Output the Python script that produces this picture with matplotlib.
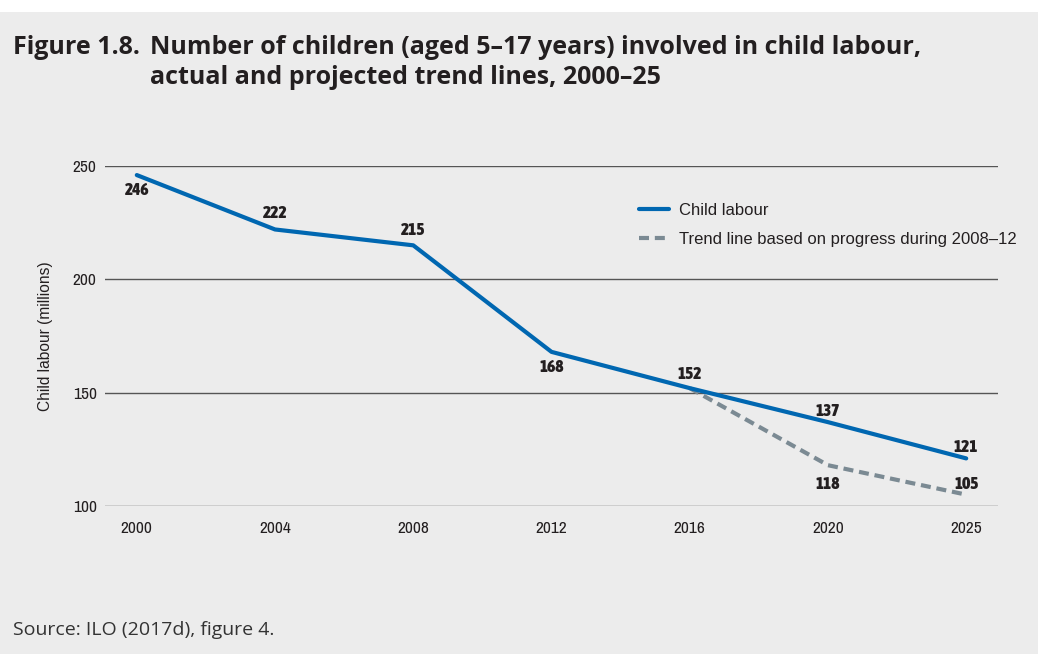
import matplotlib
matplotlib.use('Agg')
import matplotlib.pyplot as plt
from matplotlib import font_manager
from matplotlib.font_manager import FontProperties
from matplotlib.patches import Rectangle

years = ['2000', '2004', '2008', '2012', '2016', '2020', '2025']
child_labour = [246, 222, 215, 168, 152, 137, 121]
trend_years = ['2016', '2020', '2025']
trend_values = [152, 118, 105]

BG = '#ececec'
BLUE = '#0067b1'
GREY = '#7b8a93'
INK = '#231f20'
SANS = ['Liberation Sans', 'DejaVu Sans']
TITLE_FONT = ['Open Sans', 'DejaVu Sans']


def narrow_face(bold, size):
    # a condensed face for the numbers, falling back to condensed DejaVu
    for f in font_manager.fontManager.ttflist:
        if ('Narrow' in f.name or 'Condensed' in f.name) and f.style == 'normal':
            w = f.weight if isinstance(f.weight, int) else 400
            if (bold and w >= 700) or (not bold and w == 400):
                return FontProperties(fname=f.fname, size=size)
    return FontProperties(family='DejaVu Sans', stretch='condensed',
                          weight='bold' if bold else 'normal', size=size)


tick_fp = narrow_face(False, 12.5)
value_fp = narrow_face(True, 12.5)

fig = plt.figure(figsize=(10.38, 6.54), dpi=100)
fig.patch.set_facecolor(BG)
# thin white strip across the top
fig.patches.append(Rectangle((0, 1 - 12 / 654), 1, 12 / 654, transform=fig.transFigure,
                             facecolor='white', edgecolor='none'))

ax = fig.add_axes([105 / 1038, 1 - 506 / 654, 893 / 1038, 340 / 654])
ax.set_facecolor(BG)

xs = list(range(len(years)))
txs = [years.index(y) for y in trend_years]

ax.plot(txs, trend_values, color=GREY, lw=3, ls=(0, (2.4, 1.4)), zorder=3,
        label='Trend line based on progress during 2008–12')
ax.plot(xs, child_labour, color=BLUE, lw=3, solid_capstyle='round', zorder=4,
        label='Child labour')

ax.set_xlim(-0.23, 6.23)
ax.set_ylim(100, 250)
ax.set_yticks([100, 150, 200, 250])
ax.set_xticks(xs)
ax.set_xticklabels(years)
ax.yaxis.grid(True, color='#555555', lw=1)
ax.set_axisbelow(True)
for s in ax.spines.values():
    s.set_visible(False)
ax.tick_params(length=0, colors=INK)
ax.tick_params(axis='x', pad=11)
ax.tick_params(axis='y', pad=6)
for lbl in ax.get_xticklabels() + ax.get_yticklabels():
    lbl.set_fontproperties(tick_fp)
ax.set_ylabel('Child labour (millions)', fontsize=11.2, family=SANS,
              color=INK, labelpad=14)

# value labels, offsets in points from the data point
offsets = [-11, 11.5, 11, -11, 10, 8, 8.5]
for x, v, dy in zip(xs, child_labour, offsets):
    ax.annotate(str(v), (x, v), xytext=(0, dy), textcoords='offset points',
                ha='center', va='center', fontproperties=value_fp, color=INK)
trend_offsets = [None, -13.5, 8]
for x, v, dy in zip(txs, trend_values, trend_offsets):
    if dy is None:
        continue
    ax.annotate(str(v), (x, v), xytext=(0, dy), textcoords='offset points',
                ha='center', va='center', fontproperties=value_fp, color=INK)

handles, labels = ax.get_legend_handles_labels()
leg = ax.legend(handles[::-1], labels[::-1], loc='upper left',
                bbox_to_anchor=(527 / 893, 0.91), frameon=False, handlelength=1.8,
                handletextpad=0.6, labelspacing=0.8, borderaxespad=0,
                prop={'family': SANS, 'size': 12})
for t in leg.get_texts():
    t.set_color(INK)

fig.text(13 / 1038, 1 - 47 / 654, 'Figure 1.8.', fontsize=18, fontweight='bold',
         family=TITLE_FONT, color=INK, va='center')
fig.text(150 / 1038, 1 - 47 / 654,
         'Number of children (aged 5–17 years) involved in child labour,',
         fontsize=18, fontweight='bold', family=TITLE_FONT, color=INK, va='center')
fig.text(150 / 1038, 1 - 77 / 654, 'actual and projected trend lines, 2000–25',
         fontsize=18, fontweight='bold', family=TITLE_FONT, color=INK, va='center')
fig.text(13 / 1038, 1 - 630 / 654, 'Source: ILO (2017d), figure 4.', fontsize=14,
         family=TITLE_FONT, color='#333333', va='center')

fig.savefig('out.png', dpi=100, facecolor=fig.get_facecolor())
